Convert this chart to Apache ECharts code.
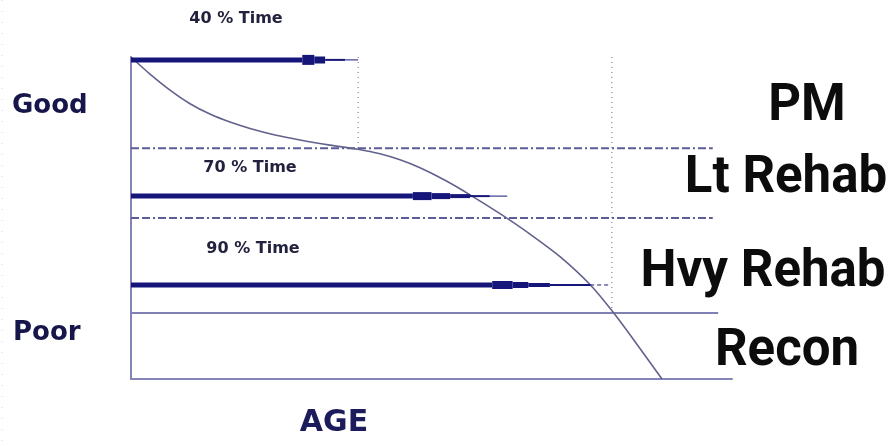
<!DOCTYPE html>
<html>
<head>
<meta charset="utf-8">
<script src="https://cdn.jsdelivr.net/npm/echarts@6/dist/echarts.min.js"></script>
<style>html,body{margin:0;padding:0;background:#fff;}#c{width:893px;height:446px;}</style>
</head>
<body>
<div id="c"></div>
<script>
// ---- data ----
const ageValues = [0, 3.16, 6.49, 9.82, 13.14, 16.47, 19.80, 23.96, 28.12, 33.11, 37.77, 41.43, 44.76, 48.09, 52.25, 56.41, 61.40, 66.39, 71.38, 76.37, 80.20, 84.69, 88.35];
const conditionValues = [100, 94.69, 89.72, 85.50, 82.27, 79.78, 77.80, 75.78, 74.22, 72.64, 71.34, 69.94, 68.07, 65.59, 61.71, 57.20, 51.34, 45.00, 38.01, 29.35, 20.78, 9.47, 0];
const levelValues = [71.7, 50.0, 20.5];
const levelEnds = [96.8, 96.8, 97.7];
const timeMarks = [37.8, 80.0];
const timeMarkBottoms = [71.7, 20.5];
const arrowLevels = [99.1, 56.8, 29.2];
const arrowStops = [
  [0, 28.5, 30.5, 32.3, 35.6, 37.8],
  [0, 46.9, 50.0, 53.1, 56.4, 59.7, 62.6],
  [0, 60.1, 63.5, 66.1, 69.7, 76.4, 79.7]
];
const timeLabels = ['40 % Time', '70 % Time', '90 % Time'];
const conditionLabels = ['Good', 'Poor'];
const actionLabels = ['PM', 'Lt Rehab', 'Hvy Rehab', 'Recon'];
const axisTitle = 'AGE';

// ---- styles ----
const arrowWidths = [[5, 10, 7, 2, 1], [5, 8, 6, 4, 2, 1], [5, 8, 6, 4, 2, 1]];
const arrowDash = [[0,0,0,0,0],[0,0,0,0,0,0],[0,0,0,0,0,1]];
const levelStyles = [
  {type: [8, 3, 8, 3, 2, 3], width: 2, color: '#5c5c98'},
  {type: [8, 3, 8, 3, 2, 3], width: 2, color: '#5c5c98'},
  {type: 'solid', width: 2, color: '#8080b4'}
];

const series = [];
series.push({
  type: 'line', name: 'curve',
  data: ageValues.map((a, i) => [a, conditionValues[i]]),
  smooth: 0.3, showSymbol: false, silent: true,
  lineStyle: {color: '#62628e', width: 1.6}, z: 3
});
levelValues.forEach((v, i) => {
  series.push({
    type: 'line', data: [[0, v], [levelEnds[i], v]], showSymbol: false, silent: true,
    lineStyle: levelStyles[i], z: 2
  });
});
timeMarks.forEach((t, i) => {
  series.push({
    type: 'line', data: [[t, 100], [t, timeMarkBottoms[i]]], showSymbol: false, silent: true,
    lineStyle: {type: [1, 4], width: 1.5, color: '#9a9ab0'}, z: 1
  });
});
arrowStops.forEach((stops, k) => {
  for (let i = 0; i < stops.length - 1; i++) {
    series.push({
      type: 'line', data: [[stops[i], arrowLevels[k]], [stops[i + 1], arrowLevels[k]]],
      showSymbol: false, silent: true,
      lineStyle: {color: '#16167a', width: arrowWidths[k][i], type: arrowDash[k][i] ? [4, 3] : 'solid', cap: 'butt'},
      z: 4
    });
  }
});

const chart = echarts.init(document.getElementById('c'), null, {renderer: 'canvas'});
const smallFont = {fontFamily: 'DejaVu Sans', fontWeight: 'bold', fontSize: 16, fill: '#22223e'};
const bigFont = {fontFamily: 'Roboto', fontWeight: 'bold', fontSize: 51, fill: '#0c0c0c'};
const leftFont = {fontFamily: 'DejaVu Sans', fontWeight: 'bold', fontSize: 26, fill: '#16164a'};

chart.setOption({
  animation: false,
  backgroundColor: '#ffffff',
  grid: {left: 131, top: 57, width: 601, height: 322, containLabel: false},
  xAxis: {type: 'value', min: 0, max: 100, axisLine: {lineStyle: {color: '#8484b8', width: 2}},
    axisTick: {show: false}, axisLabel: {show: false}, splitLine: {show: false}},
  yAxis: {type: 'value', min: 0, max: 100, axisLine: {show: true, lineStyle: {color: '#8484b8', width: 2}},
    axisTick: {show: false}, axisLabel: {show: false}, splitLine: {show: false}},
  series: series,
  graphic: [
    {type: 'line', shape: {x1: 2, y1: 0, x2: 2, y2: 446}, style: {stroke: '#d6d6d6', lineWidth: 1, lineDash: [1, 10]}},
    {type: 'text', x: 236, y: 19, style: Object.assign({text: timeLabels[0], textAlign: 'center', textVerticalAlign: 'middle'}, smallFont)},
    {type: 'text', x: 250, y: 168, style: Object.assign({text: timeLabels[1], textAlign: 'center', textVerticalAlign: 'middle'}, smallFont)},
    {type: 'text', x: 253, y: 249, style: Object.assign({text: timeLabels[2], textAlign: 'center', textVerticalAlign: 'middle'}, smallFont)},
    {type: 'text', x: 12, y: 106, style: Object.assign({text: conditionLabels[0], textAlign: 'left', textVerticalAlign: 'middle'}, leftFont)},
    {type: 'text', x: 13, y: 333, style: Object.assign({text: conditionLabels[1], textAlign: 'left', textVerticalAlign: 'middle'}, leftFont)},
    {type: 'text', x: 334, y: 423, style: Object.assign({text: axisTitle, textAlign: 'center', textVerticalAlign: 'middle'}, leftFont, {fontSize: 30, fill: '#1c1c5c'})},
    {type: 'text', x: 807, y: 107, style: Object.assign({text: actionLabels[0], textAlign: 'center', textVerticalAlign: 'middle'}, bigFont)},
    {type: 'text', x: 786, y: 179, style: Object.assign({text: actionLabels[1], textAlign: 'center', textVerticalAlign: 'middle'}, bigFont)},
    {type: 'text', x: 763, y: 273, style: Object.assign({text: actionLabels[2], textAlign: 'center', textVerticalAlign: 'middle'}, bigFont)},
    {type: 'text', x: 787, y: 352, style: Object.assign({text: actionLabels[3], textAlign: 'center', textVerticalAlign: 'middle'}, bigFont)}
  ]
});
</script>
</body>
</html>
